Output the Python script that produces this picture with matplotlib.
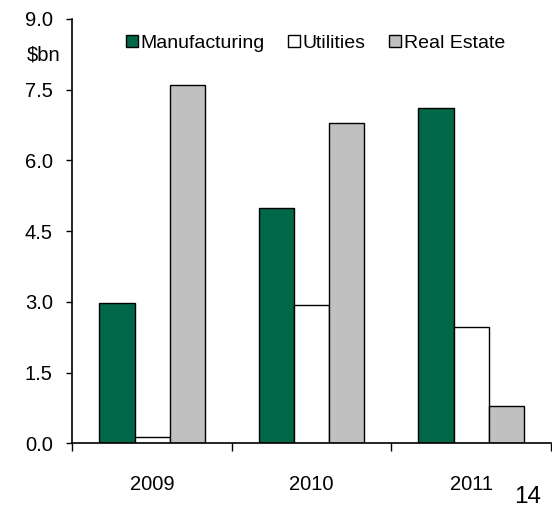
import matplotlib
matplotlib.use("Agg")
import matplotlib.pyplot as plt
import numpy as np

plt.rcParams["font.family"] = ["Liberation Sans", "DejaVu Sans"]

# Values in $bn by year and sector
years = ["2009", "2010", "2011"]
manufacturing = [2.97, 5.0, 7.1]
utilities = [0.14, 2.93, 2.47]
real_estate = [7.6, 6.8, 0.8]

series = [
    ("Manufacturing", manufacturing, "#006849"),
    ("Utilities", utilities, "#FFFFFF"),
    ("Real Estate", real_estate, "#C0C0C0"),
]

fig = plt.figure(figsize=(5.52, 5.09), dpi=100)
ax = fig.add_axes([0.131, 0.129, 0.867, 0.834])

x = np.arange(len(years))
width = 0.22
for i, (name, vals, color) in enumerate(series):
    ax.bar(x + (i - 1) * width, vals, width, color=color, edgecolor="black",
           linewidth=1.0, label=name, zorder=2)

ax.set_xlim(-0.5, 2.5)
ax.set_ylim(0, 9.0)
yticks = np.arange(0, 9.01, 1.5)
ax.set_yticks(yticks)
ax.set_yticklabels([f"{v:.1f}" for v in yticks])
ax.set_xticks(x)
ax.set_xticklabels(years)
ax.set_xticks([-0.5, 0.5, 1.5, 2.5], minor=True)

ax.tick_params(axis="y", direction="out", length=4, width=1, pad=10, labelsize=14.5)
ax.tick_params(axis="x", which="major", length=0, pad=23, labelsize=14.5)
ax.tick_params(axis="x", which="minor", direction="out", length=6, width=1)

for side in ["top", "right"]:
    ax.spines[side].set_visible(False)
for side in ["left", "bottom"]:
    ax.spines[side].set_linewidth(1.2)

ax.legend(loc="center", bbox_to_anchor=(0.508, 0.943), ncol=3, frameon=False,
          fontsize=14, handlelength=0.6, handleheight=0.6,
          handletextpad=0.15, columnspacing=1.2, borderaxespad=0)

fig.text(60 / 552, 1 - 55 / 509, "$bn", ha="right", va="center", fontsize=14.5)
fig.text(528 / 552, 1 - 497 / 509, "14", ha="center", va="center", fontsize=17.5)

fig.savefig("out.png", dpi=100)
